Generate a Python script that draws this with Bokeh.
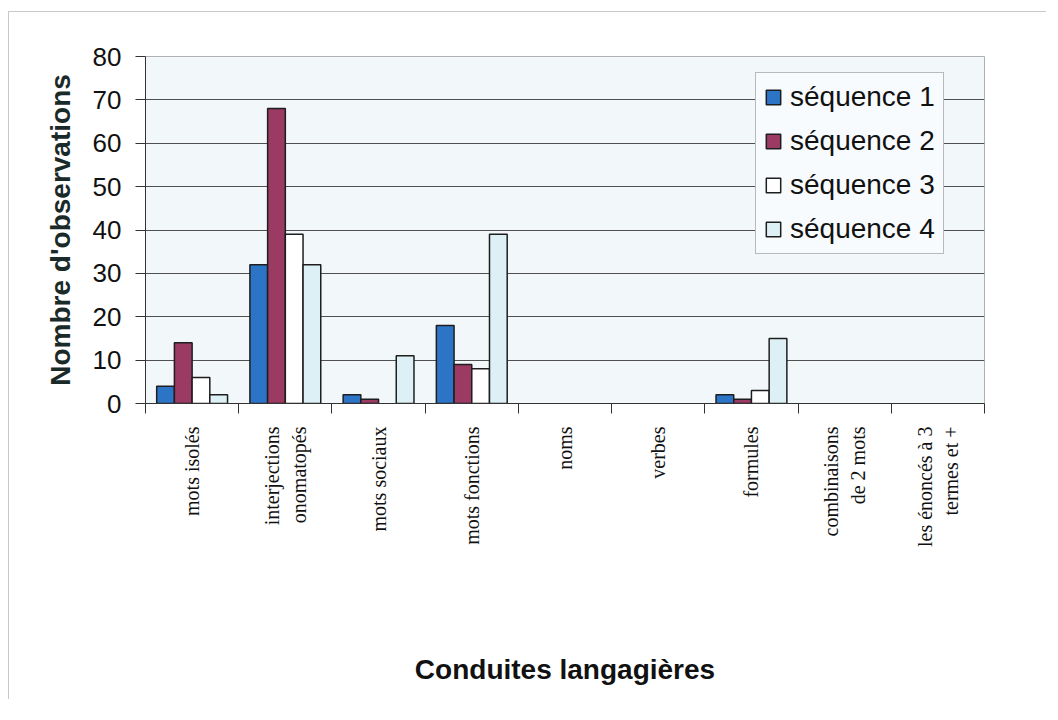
import math
from bokeh.plotting import figure
from bokeh.models import ColumnDataSource, FixedTicker, Range1d, Legend, LegendItem
from bokeh.embed import file_html
from bokeh.resources import INLINE

categories = ["mots isolés", "interjections\nonomatopés", "mots sociaux", "mots fonctions",
              "noms", "verbes", "formules", "combinaisons\nde 2 mots", "les énoncés à 3\ntermes et +"]
series_names = ["séquence 1", "séquence 2", "séquence 3", "séquence 4"]
seq1 = [4, 32, 2, 18, 0, 0, 2, 0, 0]
seq2 = [14, 68, 1, 9, 0, 0, 1, 0, 0]
seq3 = [6, 39, 0, 8, 0, 0, 3, 0, 0]
seq4 = [2, 32, 11, 39, 0, 0, 15, 0, 0]
y_ticks = [0, 10, 20, 30, 40, 50, 60, 70, 80]

colors = ["#2b74c6", "#9b3a62", "#ffffff", "#dcf0f5"]
series = [seq1, seq2, seq3, seq4]

p = figure(width=1038, height=688, output_backend="svg", toolbar_location=None,
           x_range=Range1d(0.5, len(categories) + 0.5), y_range=Range1d(0, 80),
           min_border_left=136, min_border_right=63, min_border_top=44, min_border_bottom=297)
p.margin = (11, 0, 0, 8)
p.styles = {"border-top": "1px solid #c8c8c8", "border-left": "1px solid #c8c8c8"}

bar_w = 0.19
items = []
for k, (name, vals) in enumerate(zip(series_names, series)):
    xs = [i + 1 + (k - 1.5) * bar_w for i, v in enumerate(vals) if v > 0]
    ys = [v for v in vals if v > 0]
    src = ColumnDataSource(dict(x=xs, top=ys))
    r = p.vbar(x="x", top="top", width=bar_w, bottom=0, source=src,
               fill_color=colors[k], line_color="#1e1e1e", line_width=1.5)
    items.append(LegendItem(label=name, renderers=[r]))

legend = Legend(items=items, location=(610, 149))
legend.label_text_font = "Liberation Sans"
legend.label_text_font_size = "28px"
legend.label_text_color = "#111111"
legend.glyph_width = 18
legend.glyph_height = 18
legend.spacing = 12
legend.padding = 8
legend.label_standoff = 8
legend.border_line_color = "#777777"
legend.background_fill_color = "#f8fbfd"
legend.background_fill_alpha = 1.0
p.add_layout(legend)

p.background_fill_color = "#f2f7fa"
p.border_fill_color = "#ffffff"
p.outline_line_color = "#b0b0b0"

p.xgrid.visible = False
p.ygrid.ticker = FixedTicker(ticks=y_ticks)
p.ygrid.grid_line_color = "#505050"
p.ygrid.grid_line_width = 1

# y axis
p.yaxis.ticker = FixedTicker(ticks=y_ticks)
p.yaxis.major_label_text_font = "Liberation Sans"
p.yaxis.major_label_text_font_size = "26px"
p.yaxis.major_label_text_color = "#111111"
p.yaxis.major_tick_out = 10
p.yaxis.major_tick_in = 0
p.yaxis.minor_tick_line_color = None
p.yaxis.major_label_standoff = 14
p.yaxis.axis_line_color = "#333333"
p.yaxis.major_tick_line_color = "#333333"
p.yaxis.axis_label = "Nombre d'observations"
p.yaxis.axis_label_text_font = "Liberation Sans"
p.yaxis.axis_label_text_font_style = "bold"
p.yaxis.axis_label_text_font_size = "28px"
p.yaxis.axis_label_text_color = "#1a2a28"
p.yaxis.axis_label_standoff = 14

# x axis
centers = list(range(1, len(categories) + 1))
bounds = [c - 0.5 for c in centers] + [len(categories) + 0.5]
p.xaxis.ticker = FixedTicker(ticks=centers, minor_ticks=bounds)
p.xaxis.major_label_overrides = {c: lab for c, lab in zip(centers, categories)}
p.xaxis.major_label_orientation = math.pi / 2
p.xaxis.major_label_text_font = "Liberation Serif"
p.xaxis.major_label_text_font_size = "20px"
p.xaxis.major_label_text_color = "#111111"
p.xaxis.major_tick_out = 0
p.xaxis.major_tick_in = 0
p.xaxis.minor_tick_out = 10
p.xaxis.minor_tick_in = 0
p.xaxis.minor_tick_line_color = "#333333"
p.xaxis.axis_line_color = "#333333"
p.xaxis.major_label_standoff = 13
p.xaxis.axis_label = "Conduites langagières"
p.xaxis.axis_label_text_font = "Liberation Sans"
p.xaxis.axis_label_text_font_style = "bold"
p.xaxis.axis_label_text_font_size = "28px"
p.xaxis.axis_label_text_color = "#111111"
p.xaxis.axis_label_standoff = 104

open("out.html", "w").write(file_html(p, INLINE))
